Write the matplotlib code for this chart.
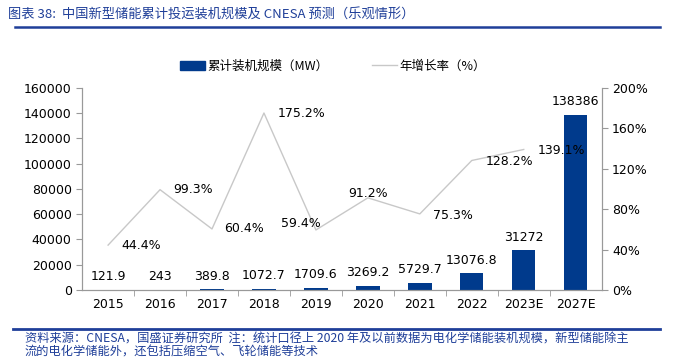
import matplotlib.pyplot as plt
from matplotlib.lines import Line2D

plt.rcParams['font.family'] = ['DejaVu Sans', 'Noto Sans CJK SC']

years = ["2015", "2016", "2017", "2018", "2019", "2020", "2021", "2022", "2023E", "2027E"]
capacity = [121.9, 243, 389.8, 1072.7, 1709.6, 3269.2, 5729.7, 13076.8, 31272, 138386]
cap_labels = ["121.9", "243", "389.8", "1072.7", "1709.6", "3269.2", "5729.7", "13076.8", "31272", "138386"]
growth = [44.4, 99.3, 60.4, 175.2, 59.4, 91.2, 75.3, 128.2, 139.1]
# label offsets (points) for growth labels, text centred
growth_off = [(24, 0), (24, 0), (23, 0), (27, 0), (-11, 5), (0, 3), (24, -1), (27, -1), (27, -1)]

blue = "#003a8c"
title_blue = "#1f3f99"
cjk = ['Noto Sans CJK SC', 'DejaVu Sans']

fig = plt.figure(figsize=(6.73, 3.62), dpi=100)
ax = fig.add_axes([0.122, 0.199, 0.772, 0.558])
ax2 = ax.twinx()

x = list(range(len(years)))
ax.bar(x, capacity, width=0.45, color=blue, zorder=2)
for i, v in enumerate(capacity):
    ax.annotate(cap_labels[i], (i, v), xytext=(0, 5), textcoords="offset points",
                ha="center", va="bottom", fontsize=9)

ax2.plot(x[:len(growth)], growth, color="#c8c8c8", lw=1.0, zorder=1)
for i, g in enumerate(growth):
    dx, dy = growth_off[i]
    ax2.annotate(f"{g:.1f}%", (i, g), xytext=(dx, dy), textcoords="offset points",
                 ha="center", va="center", fontsize=9, zorder=5)

ax.set_xlim(-0.5, len(years) - 0.5)
ax.set_ylim(0, 160000)
ax.set_yticks(range(0, 160001, 20000))
ax2.set_ylim(0, 200)
ax2.set_yticks(range(0, 201, 40))
ax2.set_yticklabels([f"{t}%" for t in range(0, 201, 40)])
ax.set_xticks(x)
ax.set_xticklabels(years)
ax.set_xticks([i + 0.5 for i in x[:-1]], minor=True)

for a in (ax, ax2):
    a.spines['top'].set_visible(False)
    for s in ('left', 'right', 'bottom'):
        a.spines[s].set_color("#999999")
    a.tick_params(labelsize=9, color="#999999", length=4)
ax.tick_params(axis='x', which='major', length=0, pad=6)
ax.tick_params(axis='x', which='minor', length=4, color="#999999")

handles = [plt.Rectangle((0, 0), 1, 1, color=blue),
           Line2D([0], [0], color="#c8c8c8", lw=1)]
fig.legend(handles, ["累计装机规模（MW）", "年增长率（%）"], loc="center",
           bbox_to_anchor=(0.495, 0.817), ncol=2, frameon=False,
           prop={'family': cjk, 'size': 9}, handlelength=2.0, handleheight=0.8,
           handletextpad=0.2, columnspacing=3.5)

fig.text(0.012, 0.962, "图表 38:  中国新型储能累计投运装机规模及 CNESA 预测（乐观情形）",
         family=cjk, fontsize=9.5, color=title_blue, style="italic", va="center")
fig.add_artist(Line2D([0.022, 0.98], [0.925, 0.925], color=title_blue, lw=1.8))
fig.add_artist(Line2D([0.02, 0.98], [0.092, 0.092], color=title_blue, lw=2))
fig.text(0.037, 0.063, "资料来源：CNESA，国盛证券研究所  注：统计口径上 2020 年及以前数据为电化学储能装机规模，新型储能除主",
         family=cjk, fontsize=8.8, color=title_blue, style="italic", va="center")
fig.text(0.037, 0.027, "流的电化学储能外，还包括压缩空气、飞轮储能等技术",
         family=cjk, fontsize=8.8, color=title_blue, style="italic", va="center")

fig.savefig("out.png", dpi=100)
